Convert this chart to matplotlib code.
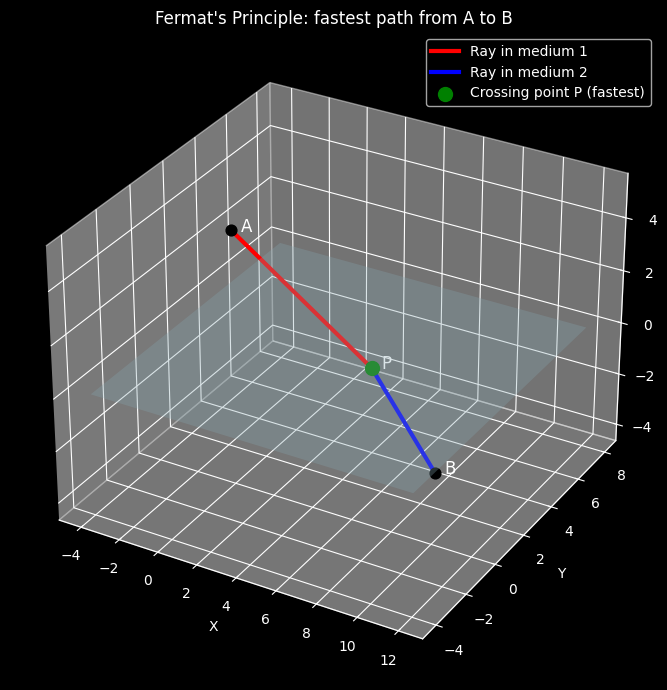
import numpy as np
import matplotlib
matplotlib.use("Agg")
import matplotlib.pyplot as plt

point_a = [0, 0, 5]
point_b = [8, 3, -4]
point_p = [5.45, 2.04, 0]
plane_x = [-4, 12]
plane_y = [-4, 8]
plane_z = [[0, 0], [0, 0]]
label_offset = [0.35, 0.15, -0.05]

plt.style.use("dark_background")
fig = plt.figure(figsize=(6.67, 6.90), dpi=100)
ax = fig.add_axes([-0.0185, 0.015, 1.038, 0.938], projection="3d")

xx, yy = np.meshgrid(plane_x, plane_y)
ax.plot_surface(xx, yy, np.array(plane_z), color="lightblue", alpha=0.3)

ax.plot(*zip(point_a, point_p), color="red", lw=3, label="Ray in medium 1")
ax.plot(*zip(point_p, point_b), color="blue", lw=3, label="Ray in medium 2")
ax.scatter(*point_p, color="green", s=100, label="Crossing point P (fastest)")
ax.scatter(*point_a, color="black", s=60)
ax.scatter(*point_b, color="black", s=60)
for name, pt in [("A", point_a), ("B", point_b), ("P", point_p)]:
    ax.text(pt[0] + label_offset[0], pt[1] + label_offset[1], pt[2] + label_offset[2],
            name, color="white", fontsize=12)

ax.set_xlabel("X")
ax.set_ylabel("Y")
ax.set_title("Fermat's Principle: fastest path from A to B")
ax.legend(loc="upper right", bbox_to_anchor=(650.5 / 667, 1 - 39 / 690),
          bbox_transform=fig.transFigure, borderaxespad=0)

fig.savefig("out.png", dpi=100)
